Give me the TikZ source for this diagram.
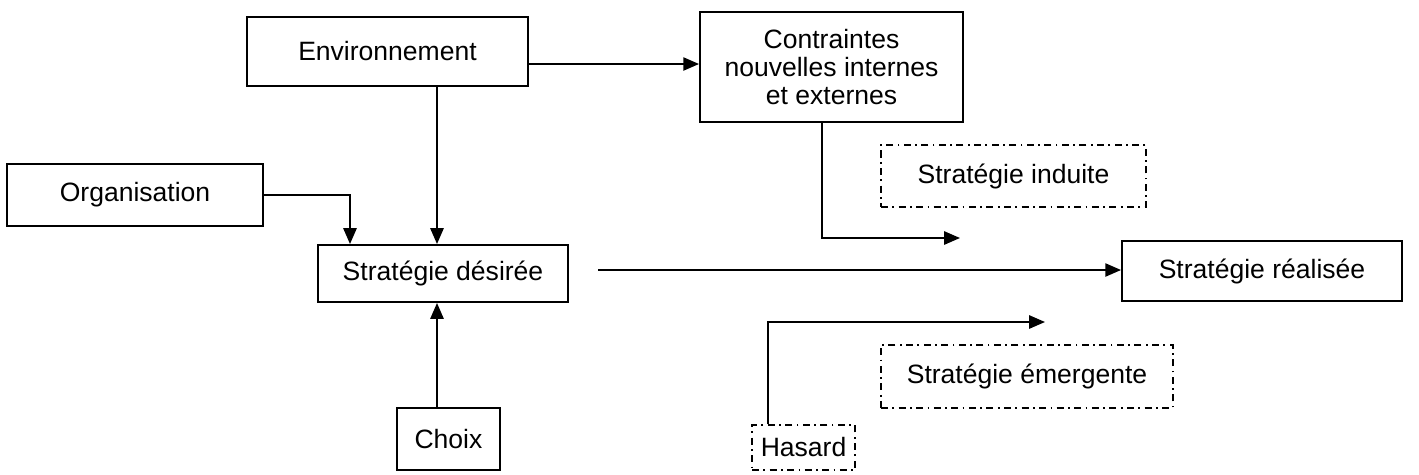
\documentclass[tikz,border=0pt]{standalone}
\usepackage{fontspec}
\setmainfont{Liberation Sans}
\usetikzlibrary{arrows.meta}
\begin{document}
\begin{tikzpicture}[x=0.02cm,y=-0.02cm,
  every node/.style={font=\fontsize{15.1pt}{16pt}\selectfont, inner sep=0pt},
  solidbox/.style={draw, line width=1.1pt},
  dashbox/.style={draw, line width=0.8pt, dash pattern=on 4pt off 2.5pt on 1pt off 2.5pt},
  arr/.style={line width=1.1pt, -{Triangle[length=9pt,width=7.5pt]}},
  ln/.style={line width=1.1pt}]
\useasboundingbox (0,0) rectangle (1419,474);
\node[solidbox, minimum width=5.62cm, minimum height=1.38cm] (env) at (387.5,51.5) {Environnement};
\node[solidbox, minimum width=5.26cm, minimum height=2.2cm, align=center, font=\fontsize{15.1pt}{15.9pt}\selectfont] (con) at (831.5,67) {Contraintes\\nouvelles internes\\et externes};
\node[dashbox, minimum width=5.3cm, minimum height=1.24cm] (ind) at (1013.5,176) {Stratégie induite};
\node[solidbox, minimum width=5.12cm, minimum height=1.24cm] (org) at (135,195) {Organisation};
\node[solidbox, minimum width=5.0cm, minimum height=1.14cm] (des) at (443,273.5) {Stratégie désirée};
\node[solidbox, minimum width=5.6cm, minimum height=1.2cm] (real) at (1262,271) {Stratégie réalisée};
\node[dashbox, minimum width=5.84cm, minimum height=1.26cm] (eme) at (1027,376.5) {Stratégie émergente};
\node[solidbox, minimum width=2.06cm, minimum height=1.24cm] (cho) at (448.5,439) {Choix};
\node[dashbox, minimum width=2.06cm, minimum height=0.9cm] (has) at (803.5,447.5) {Hasard};
\coordinate (xv) at (437,0);
\coordinate (xo) at (350,0);
\coordinate (ye) at (0,64);
\coordinate (xc) at (822,0);
\coordinate (ci) at (822,238);
\coordinate (ie) at (960,238);
\coordinate (ds) at (598,270);
\coordinate (xh) at (768,0);
\coordinate (hc) at (768,322);
\coordinate (he) at (1045,322);
\draw[arr] (env.east |- ye) -- (con.west |- ye);
\draw[arr] (env.south -| xv) -- (des.north -| xv);
\draw[arr] (org.east) -| (des.north -| xo);
\draw[arr] (cho.north -| xv) -- (des.south -| xv);
\draw[arr] (ds) -- (real.west |- ds);
\draw[arr] (con.south -| xc) -- (ci) -- (ie);
\draw[arr] (has.north -| xh) -- (hc) -- (he);
\end{tikzpicture}
\end{document}
